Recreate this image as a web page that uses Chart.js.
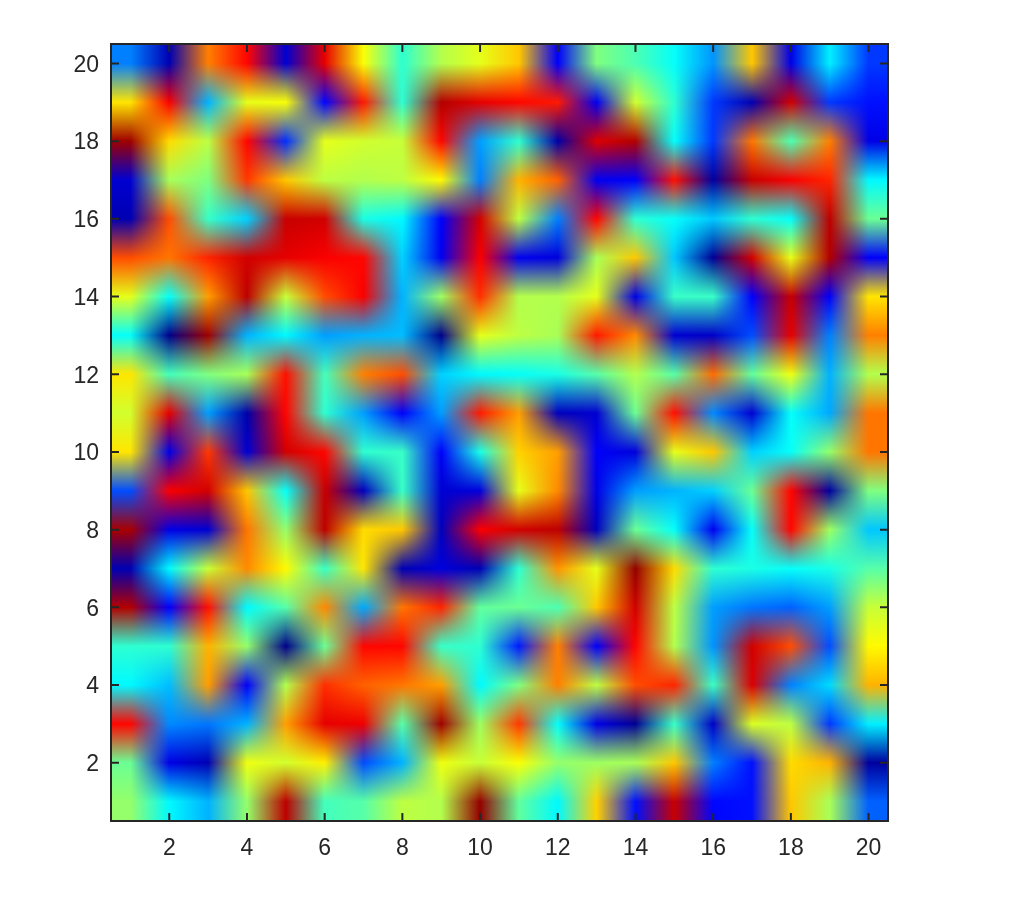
<!DOCTYPE html>
<html>
<head>
<meta charset="utf-8">
<title>Heat map</title>
<script src="https://cdn.jsdelivr.net/npm/chart.js@4"></script>
<style>
  html, body { margin: 0; padding: 0; background: #ffffff; }
  canvas { display: block; }
</style>
</head>
<body>
<canvas id="chart" width="1018" height="897"></canvas>
<script>
// Values, 0-100 on the jet colormap. One array per y row.
const ROW_20 = [25, 5, 75, 87, 8, 90, 62, 42, 55, 60, 68, 12, 50, 45, 38, 27, 68, 10, 36, 18];
const ROW_19 = [65, 88, 30, 60, 62, 13, 85, 42, 95, 90, 87, 85, 11, 58, 42, 18, 5, 92, 18, 14];
const ROW_18 = [97, 66, 56, 87, 17, 60, 58, 57, 87, 28, 42, 4, 91, 95, 38, 18, 76, 45, 75, 10];
const ROW_17 = [8, 54, 50, 82, 68, 56, 55, 56, 63, 25, 70, 78, 11, 12, 86, 3, 93, 88, 84, 37];
const ROW_16 = [5, 80, 43, 33, 93, 92, 40, 37, 12, 92, 56, 25, 87, 42, 38, 32, 42, 38, 94, 48];
const ROW_15 = [80, 76, 84, 92, 90, 88, 87, 33, 11, 88, 11, 9, 54, 68, 32, 2, 92, 60, 95, 12];
const ROW_14 = [60, 38, 72, 94, 57, 80, 88, 30, 53, 83, 55, 55, 60, 10, 43, 43, 12, 93, 12, 65];
const ROW_13 = [38, 1, 97, 30, 37, 28, 30, 31, 1, 60, 56, 54, 85, 74, 8, 7, 20, 90, 25, 75];
const ROW_12 = [65, 44, 50, 54, 86, 44, 75, 80, 33, 37, 38, 40, 46, 55, 46, 77, 47, 61, 30, 55];
const ROW_11 = [58, 90, 28, 4, 87, 42, 28, 12, 28, 85, 72, 6, 8, 48, 86, 26, 8, 38, 29, 76];
const ROW_10 = [65, 10, 82, 8, 92, 87, 42, 43, 12, 40, 67, 72, 12, 9, 60, 68, 33, 38, 52, 76];
const ROW_9 = [20, 88, 92, 68, 38, 93, 6, 43, 8, 9, 60, 74, 10, 28, 30, 33, 48, 87, 3, 50];
const ROW_8 = [96, 10, 8, 76, 52, 94, 66, 68, 6, 88, 92, 94, 6, 48, 38, 11, 38, 87, 53, 32];
const ROW_7 = [5, 37, 57, 74, 63, 43, 65, 5, 9, 5, 42, 73, 60, 98, 66, 42, 40, 38, 40, 46];
const ROW_6 = [95, 12, 86, 37, 46, 74, 29, 76, 84, 47, 48, 45, 68, 92, 56, 28, 24, 22, 28, 57];
const ROW_5 = [42, 42, 70, 52, 1, 48, 87, 87, 43, 42, 15, 75, 12, 87, 55, 27, 92, 80, 20, 63];
const ROW_4 = [37, 31, 72, 12, 55, 83, 78, 76, 72, 37, 50, 75, 56, 80, 84, 43, 91, 25, 34, 70];
const ROW_3 = [87, 26, 24, 30, 72, 90, 89, 46, 97, 53, 82, 38, 10, 2, 43, 7, 59, 56, 18, 36];
const ROW_2 = [48, 10, 5, 61, 58, 64, 20, 30, 61, 57, 62, 52, 53, 54, 68, 25, 14, 66, 70, 3];
const ROW_1 = [52, 37, 30, 52, 94, 44, 46, 56, 55, 98, 47, 37, 67, 14, 93, 13, 14, 68, 54, 22];

const ROWS = [
  ROW_1, ROW_2, ROW_3, ROW_4, ROW_5, ROW_6, ROW_7, ROW_8, ROW_9, ROW_10,
  ROW_11, ROW_12, ROW_13, ROW_14, ROW_15, ROW_16, ROW_17, ROW_18, ROW_19, ROW_20,
];

const X_TICKS = [2, 4, 6, 8, 10, 12, 14, 16, 18, 20];
const Y_TICKS = [2, 4, 6, 8, 10, 12, 14, 16, 18, 20];

const AXIS_COLOR = '#262626';
const FONT = { family: 'Liberation Sans, Arial, sans-serif', size: 23 };
const TICK_LEN = 8;

function jet(v) {
  const t = v / 100;
  const ramp = (c) => 255 * Math.max(0, Math.min(1, 1.5 - Math.abs(4 * t - c)));
  return [ramp(3), ramp(2), ramp(1)];
}

function clampCell(v) {
  return Math.max(1, Math.min(ROWS.length, v));
}

// Bilinear blend of the cell colours in RGB, pixel by pixel, through the chart scales
const heatPlugin = {
  id: 'heat',
  beforeDatasetsDraw(chart) {
    const { ctx, scales: { x, y } } = chart;
    const n = ROWS.length;
    const colors = {};
    chart.data.datasets[0].data.forEach(p => { colors[p.x + ',' + p.y] = jet(p.v); });

    const left = Math.round(x.getPixelForValue(0.5));
    const right = Math.round(x.getPixelForValue(20.5));
    const top = Math.round(y.getPixelForValue(20.5));
    const bottom = Math.round(y.getPixelForValue(0.5));
    const w = right - left;
    const h = bottom - top;
    const img = ctx.createImageData(w, h);

    for (let py = 0; py < h; py++) {
      const vy = clampCell(y.getValueForPixel(top + py + 0.5));
      const y0 = Math.min(Math.floor(vy), n - 1);
      const fy = vy - y0;
      for (let px = 0; px < w; px++) {
        const vx = clampCell(x.getValueForPixel(left + px + 0.5));
        const x0 = Math.min(Math.floor(vx), n - 1);
        const fx = vx - x0;
        const a = colors[x0 + ',' + y0];
        const b = colors[(x0 + 1) + ',' + y0];
        const c = colors[x0 + ',' + (y0 + 1)];
        const d = colors[(x0 + 1) + ',' + (y0 + 1)];
        const i = (py * w + px) * 4;
        for (let k = 0; k < 3; k++) {
          const low = a[k] + (b[k] - a[k]) * fx;
          const high = c[k] + (d[k] - c[k]) * fx;
          img.data[i + k] = low + (high - low) * fy;
        }
        img.data[i + 3] = 255;
      }
    }
    ctx.putImageData(img, left, top);
  },
};

// MATLAB style box with inward ticks on all four sides
const framePlugin = {
  id: 'frame',
  afterDraw(chart) {
    const { ctx, chartArea: a, scales: { x, y } } = chart;
    ctx.save();
    ctx.strokeStyle = AXIS_COLOR;
    ctx.lineWidth = 2;
    ctx.beginPath();
    X_TICKS.forEach(t => {
      const px = x.getPixelForValue(t);
      ctx.moveTo(px, a.bottom);
      ctx.lineTo(px, a.bottom - TICK_LEN);
      ctx.moveTo(px, a.top);
      ctx.lineTo(px, a.top + TICK_LEN);
    });
    Y_TICKS.forEach(t => {
      const py = y.getPixelForValue(t);
      ctx.moveTo(a.left, py);
      ctx.lineTo(a.left + TICK_LEN, py);
      ctx.moveTo(a.right, py);
      ctx.lineTo(a.right - TICK_LEN, py);
    });
    ctx.stroke();
    ctx.strokeRect(a.left, a.top, a.right - a.left, a.bottom - a.top);
    ctx.restore();
  },
};

const cells = [];
ROWS.forEach((row, r) => {
  row.forEach((v, c) => cells.push({ x: c + 1, y: r + 1, v }));
});

new Chart(document.getElementById('chart'), {
  type: 'scatter',
  data: {
    datasets: [{ data: cells, pointRadius: 0, pointHoverRadius: 0 }],
  },
  options: {
    responsive: false,
    animation: false,
    events: [],
    layout: { padding: { left: 51, right: 130, top: 44, bottom: 36 } },
    plugins: {
      legend: { display: false },
      tooltip: { enabled: false },
    },
    scales: {
      x: {
        type: 'linear',
        min: 0.5,
        max: 20.5,
        afterBuildTicks: scale => { scale.ticks = X_TICKS.map(value => ({ value })); },
        afterFit: scale => { scale.height = 40; },
        grid: { display: false },
        border: { display: false },
        ticks: { color: AXIS_COLOR, font: FONT, padding: 6, maxRotation: 0, autoSkip: false },
      },
      y: {
        type: 'linear',
        min: 0.5,
        max: 20.5,
        afterBuildTicks: scale => { scale.ticks = Y_TICKS.map(value => ({ value })); },
        afterFit: scale => { scale.width = 60; },
        grid: { display: false },
        border: { display: false },
        ticks: { color: AXIS_COLOR, font: FONT, padding: 4, labelOffset: 2, autoSkip: false },
      },
    },
  },
  plugins: [heatPlugin, framePlugin],
});
</script>
</body>
</html>
